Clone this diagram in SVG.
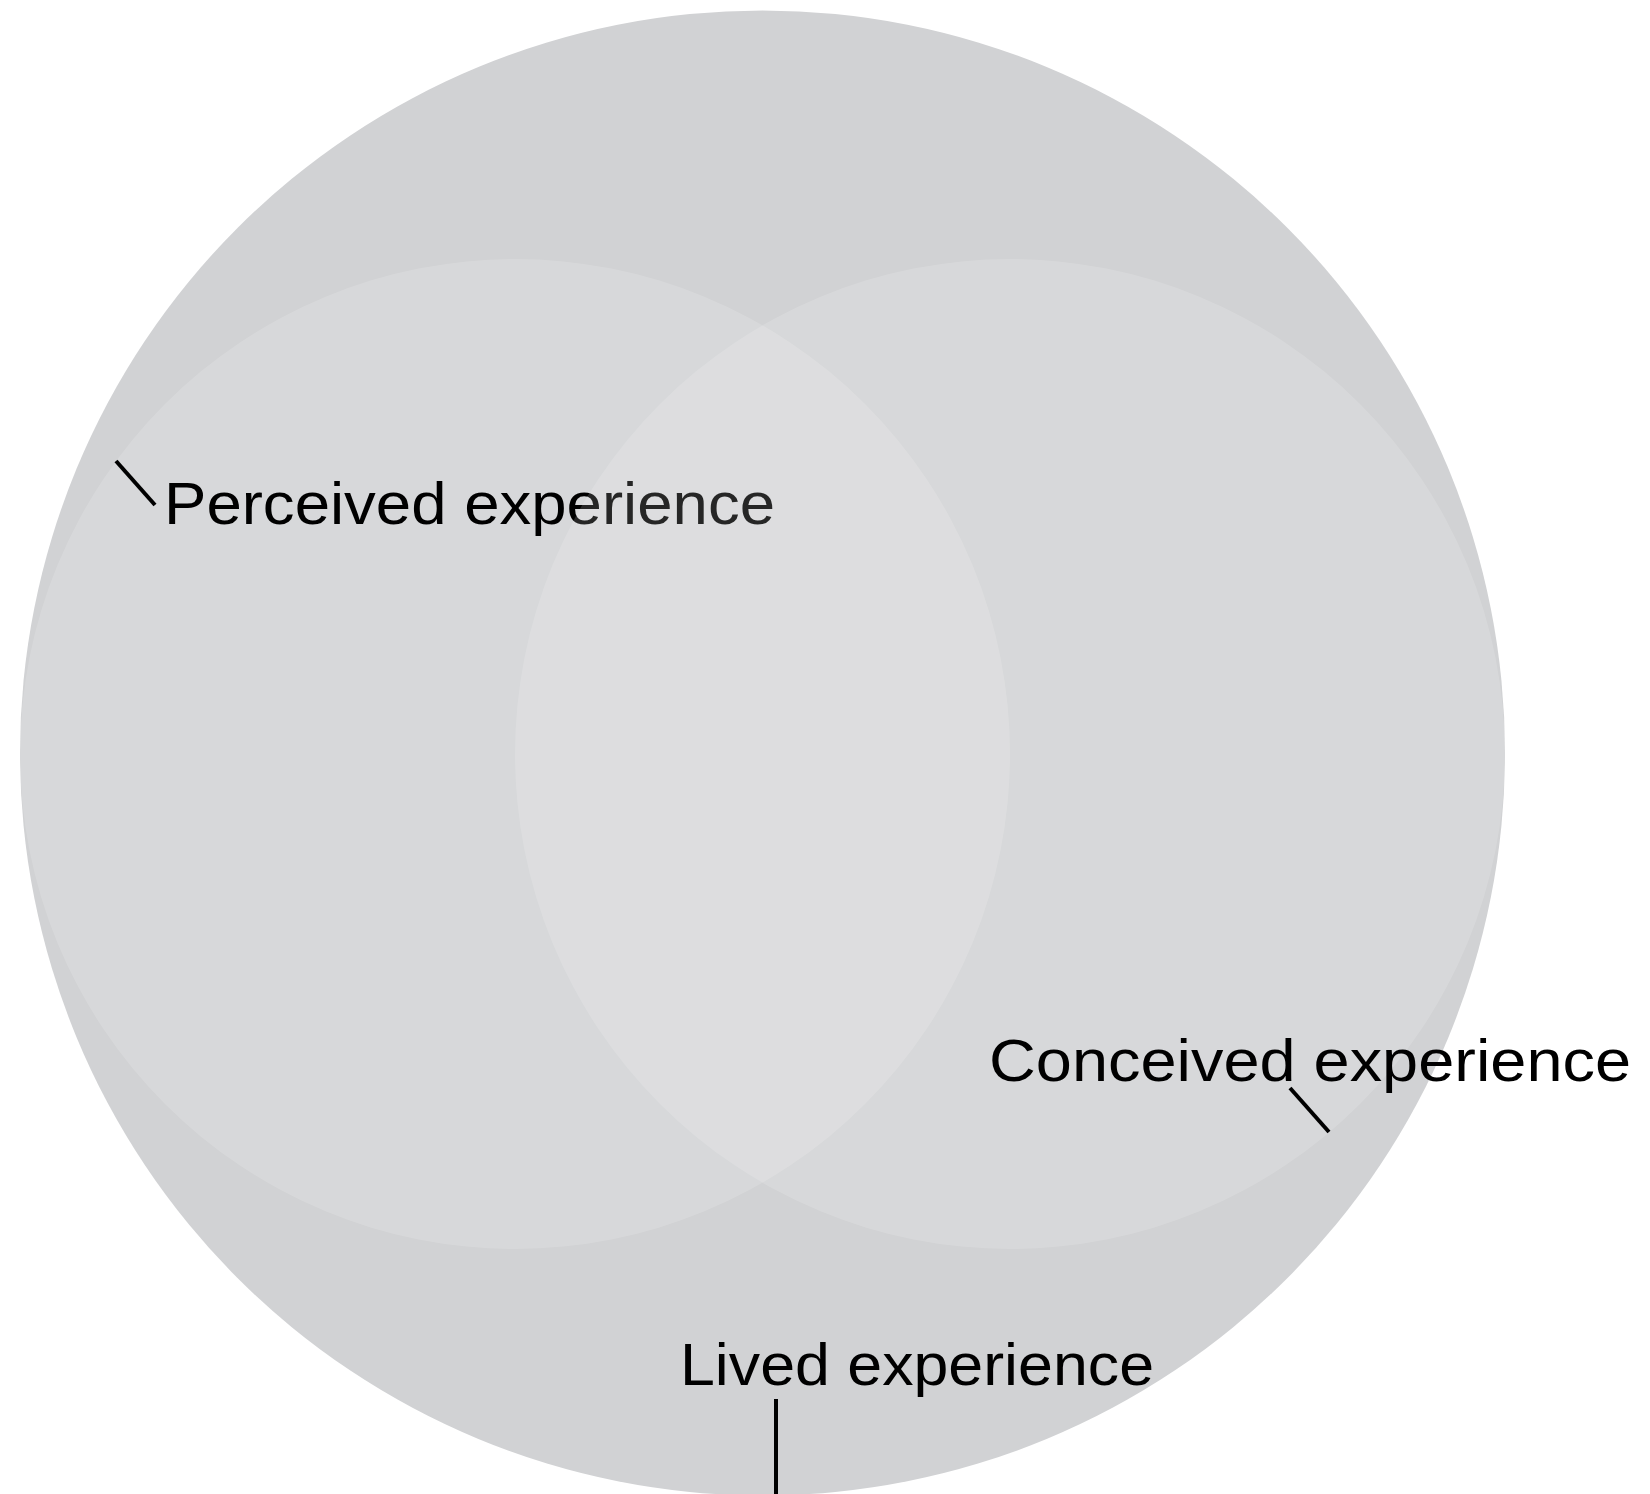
<svg xmlns="http://www.w3.org/2000/svg" width="1650" height="1494" viewBox="0 0 1650 1494">
<style>
.big{fill:#d1d2d4}
.sub{fill:#ffffff;fill-opacity:0.15}
.lbl{font-family:"Liberation Sans",Arial,sans-serif;font-size:60px;fill:#000}
.lead{stroke:#000;stroke-width:4;fill:none}
</style>
<rect width="1650" height="1494" fill="#ffffff"/>
<g id="lived">
<circle class="big" cx="762.5" cy="753" r="742.5"/>
<text class="lbl" x="680" y="1385" textLength="474" lengthAdjust="spacingAndGlyphs">Lived experience</text>
</g>
<g id="perceived">
<circle class="sub" cx="515" cy="754" r="495"/>
<text class="lbl" x="164" y="524" textLength="611" lengthAdjust="spacingAndGlyphs">Perceived experience</text>
</g>
<g id="conceived">
<circle class="sub" cx="1010" cy="754" r="495"/>
<text class="lbl" x="989" y="1081" textLength="642" lengthAdjust="spacingAndGlyphs">Conceived experience</text>
</g>
<g id="connectors">
<line class="lead" x1="116" y1="461" x2="155" y2="505"/>
<line class="lead" x1="1290" y1="1088" x2="1329" y2="1132"/>
<line class="lead" x1="776" y1="1399" x2="776" y2="1494"/>
</g>
</svg>
